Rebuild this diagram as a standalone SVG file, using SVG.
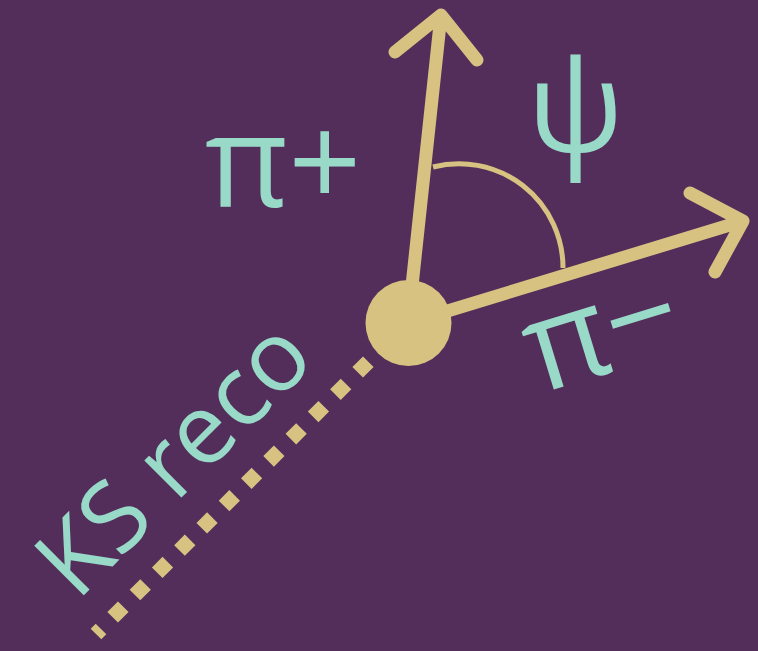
<svg xmlns="http://www.w3.org/2000/svg" width="758" height="651" viewBox="0 0 758 651">
<style>
.bg{fill:#532E5A}
.ln{fill:none;stroke:#D8C282;stroke-width:13;stroke-linecap:round;stroke-linejoin:round}
.arc{fill:none;stroke:#D8C282;stroke-width:5}
.dots{fill:none;stroke:#D8C282;stroke-width:15;stroke-dasharray:15 16.5}
.lbl{fill:#98D9C8;font-family:"Open Sans","Noto Sans",sans-serif;font-size:128px}
</style>
<rect class="bg" x="0" y="0" width="758" height="651"/>
<g id="connectors">
<line id="ks-line" class="dots" x1="368.3" y1="361.7" x2="96" y2="634"/>
<path id="pi-plus-arrow" class="ln" d="M408,323 L441,15 M395,52 L441,15 L477,60"/>
<path id="pi-minus-arrow" class="ln" d="M408,323 L743,221 M690,193 L743,221 L715,272"/>
<path id="psi-angle" class="arc" d="M433,167 A104,104 0 0 1 563,268"/>
</g>
<g id="vertex"><circle cx="408.5" cy="323" r="43" fill="#D8C282"/></g>
<g id="label-pi-plus"><text class="lbl" x="205" y="207">π+</text></g>
<g id="label-psi"><text class="lbl" x="527" y="152">ψ</text></g>
<g id="label-pi-minus"><text class="lbl" transform="translate(539,394) rotate(-17)">π−</text></g>
<g id="label-ks"><text class="lbl" style="font-size:98px" transform="translate(77,602) rotate(-45)">KS reco</text></g>
</svg>
